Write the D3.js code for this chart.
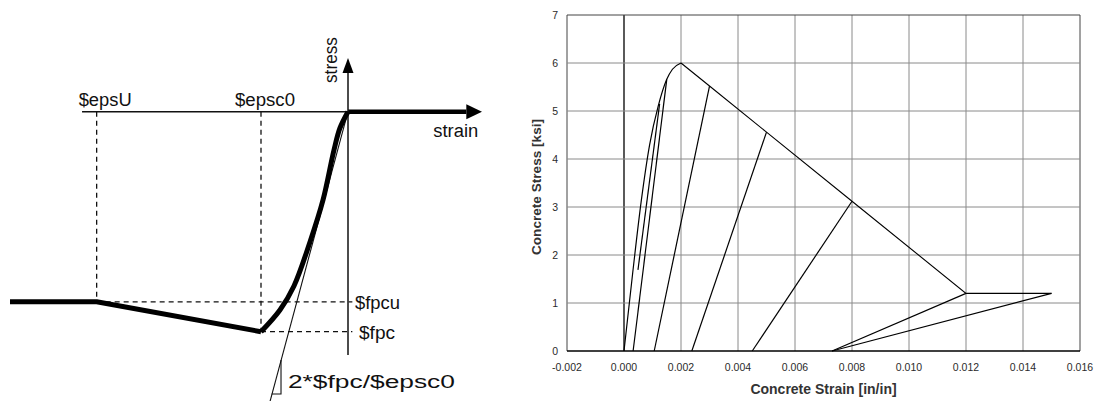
<!DOCTYPE html>
<html>
<head>
<meta charset="utf-8">
<script src="https://cdnjs.cloudflare.com/ajax/libs/d3/7.8.5/d3.min.js"></script>
<style>
  body { margin: 0; background: #fff; }
  svg { display: block; }
  .sk { font-family: "Liberation Sans", Arial, sans-serif; fill: #111; }
  .tick-lbl { font-family: "Liberation Sans", Arial, sans-serif; font-size: 10.5px; fill: #2a2a2a; }
  .axis-title { font-family: "Liberation Sans", Arial, sans-serif; font-weight: bold; fill: #333; }
</style>
</head>
<body>
<svg id="main-svg" width="1095" height="401"></svg>
<script>
// ---------- schematic (left), in units of strain/$epsc0 and stress/$fpc ----------
let epsU = 2.889, fpcu = 0.864;
let leftEnd = 3.885;
let schemRise = [[1, 1], [0.782, 0.901], [0.621, 0.792], [0.437, 0.592], [0.287, 0.401], [0.161, 0.174], [0.092, 0.074], [0, 0]];
let schemSoft = [[leftEnd, fpcu], [epsU, fpcu], [1, 1]];
let tangentEnd = [0.897, 1.318];
let slopeTri = [[0.77, 1.129], [0.77, 1.283], [0.877, 1.283]];
let strainAxis = [3.057, 0, -1.36, -1.54];   // thin start, origin, thick end, arrow tip
let stressAxis = [1.106, -0.244];            // bottom, arrow tip

// ---------- hysteresis chart (right) ----------
let xTicks = [-0.002, 0, 0.002, 0.004, 0.006, 0.008, 0.010, 0.012, 0.014, 0.016];
let yTicks = [0, 1, 2, 3, 4, 5, 6, 7];
let envelopeRise = [[0, 0], [0.0003, 1.6], [0.0006, 3.1], [0.0009, 4.3], [0.0012, 5.1], [0.0015, 5.66], [0.0017, 5.87], [0.002, 6.0]];
let envelopeSoft = [[0.002, 6.0], [0.003, 5.52], [0.005, 4.56], [0.008, 3.12], [0.012, 1.2], [0.015, 1.2]];
let unloadLines = [
    [[0.0015, 5.66], [0.00032, 0]],
    [[0.003, 5.52], [0.00106, 0]],
    [[0.005, 4.56], [0.00238, 0]],
    [[0.008, 3.12], [0.0045, 0]],
    [[0.012, 1.2], [0.0073, 0]],
    [[0.015, 1.2], [0.0073, 0]],
    [[0.00049, 1.69], [0.00125, 5.15]]
];

let svg = d3.select("#main-svg");
let SketchLayer = svg.append("g");
let ChartLayer = svg.append("g");

// ===== schematic =====
let sx = d3.scaleLinear().domain([0, 1]).range([348, 261]);
let sy = d3.scaleLinear().domain([0, 1]).range([111.7, 331.7]);
let sline = d3.line().x(function (d) { return sx(d[0]); }).y(function (d) { return sy(d[1]); });

// dashed guides
let dashes = [
    [[epsU, 0], [epsU, fpcu]],
    [[1, 0], [1, 1]],
    [[epsU, fpcu], [-0.05, fpcu]],
    [[1, 1], [-0.05, 1]]
];
SketchLayer.selectAll(".dash").data(dashes).enter().append("path")
    .attr("d", sline)
    .attr("fill", "none").attr("stroke", "#111").attr("stroke-width", 1.3)
    .attr("stroke-dasharray", "5,4");

// thin strain axis
SketchLayer.append("path").attr("d", sline([[strainAxis[0], 0], [strainAxis[1], 0]]))
    .attr("stroke", "#111").attr("stroke-width", 1.5);
// thick part + arrow
SketchLayer.append("path").attr("d", sline([[strainAxis[1], 0], [strainAxis[2], 0]]))
    .attr("stroke", "#000").attr("stroke-width", 4.5);
SketchLayer.append("path")
    .attr("d", "M" + sx(strainAxis[3]) + "," + sy(0) + " L" + sx(strainAxis[2]) + "," + (sy(0) - 7.5) + " L" + sx(strainAxis[2]) + "," + (sy(0) + 7.5) + "Z")
    .attr("fill", "#000");

// stress axis + arrow
SketchLayer.append("path").attr("d", sline([[0, stressAxis[0]], [0, stressAxis[1] + 0.06]]))
    .attr("stroke", "#111").attr("stroke-width", 1.5);
SketchLayer.append("path")
    .attr("d", "M" + sx(0) + "," + sy(stressAxis[1]) + " L" + (sx(0) - 5.5) + "," + (sy(stressAxis[1]) + 15) + " L" + (sx(0) + 5.5) + "," + (sy(stressAxis[1]) + 15) + "Z")
    .attr("fill", "#000");

// tangent line and slope triangle
SketchLayer.append("path").attr("d", sline([[0, 0], tangentEnd]))
    .attr("fill", "none").attr("stroke", "#111").attr("stroke-width", 1.1);
SketchLayer.append("path").attr("d", sline(slopeTri))
    .attr("fill", "none").attr("stroke", "#111").attr("stroke-width", 1.1);

// thick material curve
SketchLayer.append("path").attr("d", sline(schemSoft))
    .attr("fill", "none").attr("stroke", "#000").attr("stroke-width", 5).attr("stroke-linejoin", "round");
SketchLayer.append("path").attr("d", d3.line().curve(d3.curveCatmullRom).x(function (d) { return sx(d[0]); }).y(function (d) { return sy(d[1]); })(schemRise))
    .attr("fill", "none").attr("stroke", "#000").attr("stroke-width", 5).attr("stroke-linejoin", "round");

// labels
function skText(txt, x, y, len, size) {
    return SketchLayer.append("text").classed("sk", true)
        .attr("x", x).attr("y", y)
        .attr("font-size", size)
        .attr("textLength", len).attr("lengthAdjust", "spacingAndGlyphs")
        .text(txt);
}
skText("$epsU", sx(epsU) - 18, 106, 53, 18);
skText("$epsc0", sx(1) - 26, 106, 60, 18);
skText("strain", sx(-0.98), 136.5, 45, 18);
skText("$fpcu", sx(0) + 7, sy(fpcu) + 7, 45, 18);
skText("$fpc", sx(0) + 11, sy(1) + 7, 36, 18);
skText("2*$fpc/$epsc0", sx(0.69), 388, 167, 18);
SketchLayer.append("text").classed("sk", true)
    .attr("transform", "translate(" + (sx(0) - 11) + "," + 83 + ") rotate(-90)")
    .attr("font-size", 18)
    .attr("textLength", 46).attr("lengthAdjust", "spacingAndGlyphs")
    .text("stress");

// ===== hysteresis chart =====
let x = d3.scaleLinear().domain([-0.002, 0.016]).range([567, 1080]);
let y = d3.scaleLinear().domain([0, 7]).range([351, 15]);

// grid
ChartLayer.selectAll(".vgrid").data(xTicks).enter().append("line")
    .attr("x1", function (d) { return x(d); }).attr("x2", function (d) { return x(d); })
    .attr("y1", y(0)).attr("y2", y(7))
    .attr("stroke", function (d) { return d === 0 ? "#000" : (d === -0.002 || d === 0.016 ? "#444" : "#8a8a8a"); })
    .attr("stroke-width", function (d) { return d === 0 ? 1.3 : 1; });
ChartLayer.selectAll(".hgrid").data(yTicks).enter().append("line")
    .attr("x1", x(-0.002)).attr("x2", x(0.016))
    .attr("y1", function (d) { return y(d); }).attr("y2", function (d) { return y(d); })
    .attr("stroke", function (d) { return d === 0 ? "#000" : (d === 7 ? "#444" : "#8a8a8a"); })
    .attr("stroke-width", function (d) { return d === 0 ? 1.3 : 1; });

// tick labels
let fmt = d3.format(".3f");
ChartLayer.selectAll(".xl").data(xTicks).enter().append("text").classed("tick-lbl", true)
    .attr("x", function (d) { return x(d); }).attr("y", 370.5)
    .attr("text-anchor", "middle")
    .text(function (d) { return fmt(d).replace("\u2212", "-"); });
ChartLayer.selectAll(".yl").data(yTicks).enter().append("text").classed("tick-lbl", true)
    .attr("x", 558).attr("y", function (d) { return y(d) + 3.5; })
    .attr("text-anchor", "end")
    .text(function (d) { return d; });

ChartLayer.append("text").classed("axis-title", true)
    .attr("x", 823.5).attr("y", 394).attr("text-anchor", "middle")
    .attr("font-size", 14)
    .text("Concrete Strain [in/in]");
ChartLayer.append("text").classed("axis-title", true)
    .attr("transform", "translate(541," + 187 + ") rotate(-90)")
    .attr("text-anchor", "middle")
    .attr("font-size", 13.6)
    .text("Concrete Stress [ksi]");

// curves
let cline = d3.line().x(function (d) { return x(d[0]); }).y(function (d) { return y(d[1]); });
ChartLayer.append("path").attr("d", d3.line().curve(d3.curveMonotoneX).x(function (d) { return x(d[0]); }).y(function (d) { return y(d[1]); })(envelopeRise))
    .attr("fill", "none").attr("stroke", "#000").attr("stroke-width", 1.2);
ChartLayer.append("path").attr("d", cline(envelopeSoft))
    .attr("fill", "none").attr("stroke", "#000").attr("stroke-width", 1.1);
ChartLayer.selectAll(".unl").data(unloadLines).enter().append("path")
    .attr("d", cline)
    .attr("fill", "none").attr("stroke", "#000").attr("stroke-width", 1.2);
</script>
</body>
</html>
